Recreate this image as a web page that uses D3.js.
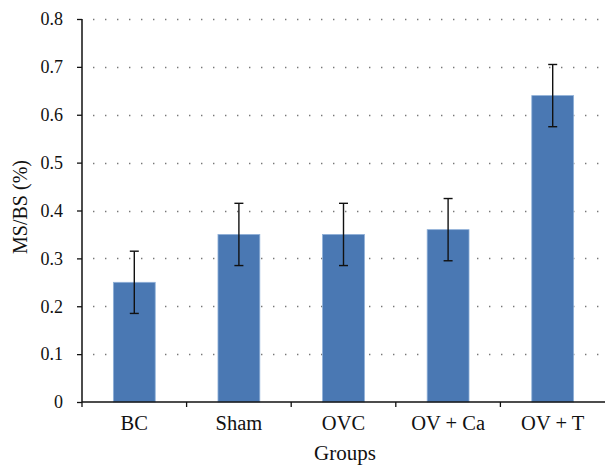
<!DOCTYPE html>
<html>
<head>
<meta charset="utf-8">
<script src="https://cdn.jsdelivr.net/npm/d3@7"></script>
<style>
  html, body { margin: 0; padding: 0; background: #fff; }
  svg { display: block; }
  text { font-family: "Liberation Serif", "DejaVu Serif", serif; fill: #111; }
</style>
</head>
<body>
<svg id="chart" width="605" height="465"></svg>
<script>
// MS/BS (%) by treatment group, mean with error range
const groups = ["BC", "Sham", "OVC", "OV + Ca", "OV + T"];
const means = [0.25, 0.35, 0.35, 0.36, 0.64];
const errors = [0.065, 0.065, 0.065, 0.065, 0.065];
const yTicks = [0, 0.1, 0.2, 0.3, 0.4, 0.5, 0.6, 0.7, 0.8];

const svg = d3.select("#chart");
const margin = { left: 82, right: 0, top: 19, bottom: 63 };
const W = 605, H = 465;

const x = d3.scaleBand()
  .domain(groups)
  .range([margin.left, W - margin.right])
  .paddingInner(0.6)
  .paddingOuter(0.3);

const y = d3.scaleLinear()
  .domain([0, 0.8])
  .range([H - margin.bottom, margin.top]);

// dotted horizontal gridlines
svg.append("g")
  .selectAll("line")
  .data(yTicks.filter(d => d > 0))
  .join("line")
  .attr("x1", margin.left + 11)
  .attr("x2", W - 4)
  .attr("y1", d => Math.round(y(d)) + 0.5)
  .attr("y2", d => Math.round(y(d)) + 0.5)
  .attr("stroke", "#777")
  .attr("stroke-width", 1.4)
  .attr("stroke-dasharray", "1.4,10.6");

// bars
svg.append("g")
  .selectAll("rect")
  .data(groups)
  .join("rect")
  .attr("x", d => x(d))
  .attr("width", x.bandwidth())
  .attr("y", (d, i) => y(means[i]))
  .attr("height", (d, i) => y(0) - y(means[i]))
  .attr("fill", "#4a78b3")
  .attr("stroke", "#8fb0d8")
  .attr("stroke-width", 0.8);

// error bars
const eb = svg.append("g").attr("stroke", "#111").attr("stroke-width", 1.4);
groups.forEach((g, i) => {
  const cx = x(g) + x.bandwidth() / 2;
  const top = y(means[i] + errors[i]);
  const bot = y(means[i] - errors[i]);
  eb.append("line").attr("x1", cx).attr("x2", cx).attr("y1", top).attr("y2", bot);
  eb.append("line").attr("x1", cx - 4.5).attr("x2", cx + 4.5).attr("y1", top).attr("y2", top);
  eb.append("line").attr("x1", cx - 4.5).attr("x2", cx + 4.5).attr("y1", bot).attr("y2", bot);
});

// y axis
const yAxis = svg.append("g")
  .attr("transform", `translate(${margin.left},0)`)
  .call(d3.axisLeft(y).tickValues(yTicks).tickFormat(d => d === 0 ? "0" : d3.format(".1f")(d)).tickSize(5).tickPadding(14));
yAxis.select(".domain").attr("stroke", "#111").attr("stroke-width", 1.5).attr("d", `M0,${y(0.8)}V${y(0)}`);
yAxis.selectAll(".tick line").attr("stroke", "#111").attr("stroke-width", 1.3);
yAxis.selectAll(".tick text")
  .attr("font-size", 18)
  .attr("font-family", "Liberation Serif")
  .attr("fill", "#111");

// x axis: tick marks sit between the groups
const xAxisG = svg.append("g").attr("transform", `translate(0,${y(0)})`);
xAxisG.append("line")
  .attr("x1", margin.left).attr("x2", W)
  .attr("stroke", "#111").attr("stroke-width", 1.5);
const step = x.step();
const bounds = groups.map(g => x(g) - (step - x.bandwidth()) / 2);
xAxisG.selectAll("line.sep")
  .data(bounds)
  .join("line")
  .attr("class", "sep")
  .attr("x1", d => d).attr("x2", d => d)
  .attr("y1", 0).attr("y2", 5)
  .attr("stroke", "#111").attr("stroke-width", 1.3);
xAxisG.selectAll("text")
  .data(groups)
  .join("text")
  .attr("x", d => x(d) + x.bandwidth() / 2)
  .attr("y", 28)
  .attr("text-anchor", "middle")
  .attr("font-size", 20.5)
  .text(d => d);

// axis titles
svg.append("text")
  .attr("x", 345)
  .attr("y", 460)
  .attr("text-anchor", "middle")
  .attr("font-size", 21)
  .text("Groups");

svg.append("text")
  .attr("transform", "translate(27,207) rotate(-90)")
  .attr("text-anchor", "middle")
  .attr("font-size", 20)
  .text("MS/BS (%)");
</script>
</body>
</html>
